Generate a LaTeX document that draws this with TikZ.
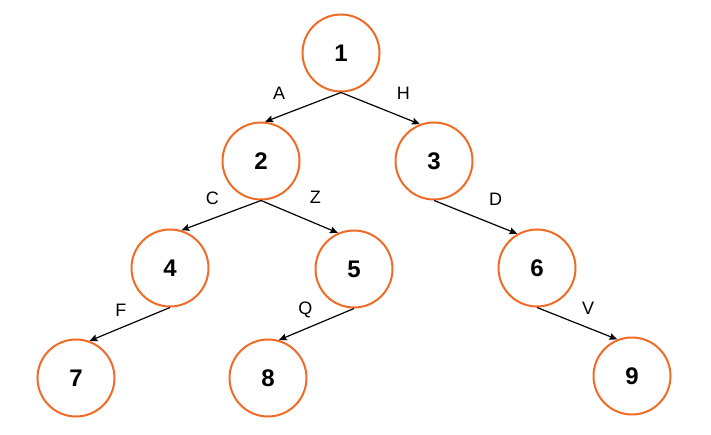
\documentclass[tikz,border=0pt]{standalone}
\usepackage{fontspec}
\setmainfont{Liberation Sans}
\usepackage{tikz}
\usetikzlibrary{arrows.meta,positioning}
\definecolor{ringorange}{RGB}{240,108,38}

\begin{document}
\begin{tikzpicture}[
vertex/.style={draw=ringorange,circle,line width=2pt,minimum size=77pt,inner sep=0pt,font=\fontsize{24}{28}\selectfont\bfseries},
lbl/.style={inner sep=0pt,font=\fontsize{18}{21}\selectfont},
arr/.style={-{Stealth[length=8pt,width=7pt,inset=1.5pt]},line width=1.2pt},
on grid]
\useasboundingbox(0,0)rectangle(711pt,-435pt);
\node[vertex](one)at(341pt,-53pt){1};
\node[vertex,below left=108pt and 80pt of one](two){2};
\node[vertex,below right=108pt and 93pt of one](three){3};
\node[vertex,below left=107pt and 91pt of two](four){4};
\node[vertex,below right=108pt and 93pt of two](five){5};
\node[vertex,below right=107pt and 103pt of three](six){6};
\node[vertex,below left=110pt and 94pt of four](seven){7};
\node[vertex,below left=109pt and 86pt of five](eight){8};
\node[vertex,below right=108pt and 95pt of six](nine){9};
\draw[arr](one.south)--node[lbl,xshift=-24pt,yshift=14pt]{A}(two.84);
\draw[arr](one.south)--node[lbl,xshift=23pt,yshift=15pt]{H}(three.111);
\draw[arr](two.south)--node[lbl,xshift=-9pt,yshift=17pt]{C}(four.73);
\draw[arr](two.south)--node[lbl,xshift=16pt,yshift=19pt]{Z}(five.114);
\draw[arr](three.south)--node[lbl,xshift=20pt,yshift=18pt]{D}(six.120);
\draw[arr](four.south)--node[lbl,xshift=-9pt,yshift=14pt]{F}(seven.70);
\draw[arr](five.south)--node[lbl,xshift=-11pt,yshift=14pt]{Q}(eight.74);
\draw[arr](six.south)--node[lbl,xshift=11pt,yshift=15pt]{V}(nine.112);
\end{tikzpicture}
\end{document}
